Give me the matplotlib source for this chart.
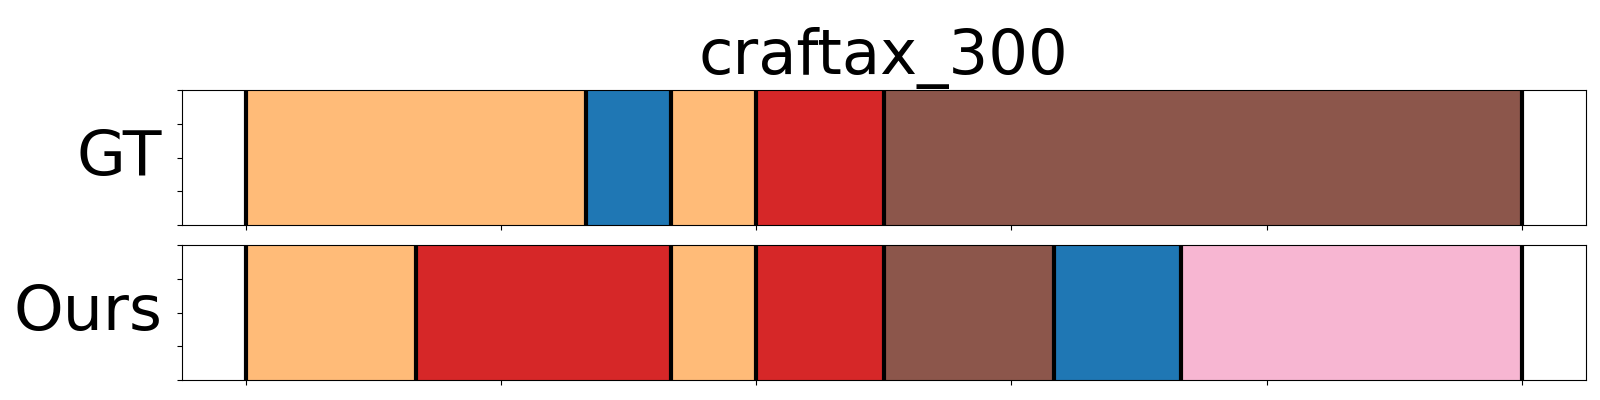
import matplotlib
matplotlib.use('Agg')
import matplotlib.pyplot as plt

title = 'craftax_300'
rows = ['GT', 'Ours']

# segments: start, end, colour
gt_starts = [0, 80, 100, 120, 150]
gt_ends = [80, 100, 120, 150, 300]
gt_colors = ['#ffbb78', '#1f77b4', '#ffbb78', '#d62728', '#8c564b']

ours_starts = [0, 40, 100, 120, 150, 190, 220]
ours_ends = [40, 100, 120, 150, 190, 220, 300]
ours_colors = ['#ffbb78', '#d62728', '#ffbb78', '#d62728', '#8c564b', '#1f77b4', '#f7b6d2']

segs = [(gt_starts, gt_ends, gt_colors), (ours_starts, ours_ends, ours_colors)]

fig = plt.figure(figsize=(16, 4), dpi=100)
ax1 = fig.add_axes([0.1136, 0.4375, 0.8774, 0.3365])
ax2 = fig.add_axes([0.1136, 0.05, 0.8774, 0.337])

for ax, name, (st, en, cs) in zip([ax1, ax2], rows, segs):
    for s, e, c in zip(st, en, cs):
        ax.axvspan(s, e, color=c)
    for b in sorted(set(st + en)):
        ax.axvline(b, color='black', linewidth=3)
    ax.set_xlim(-15, 315)
    ax.set_ylim(0, 1)
    ax.set_xticks([0, 60, 120, 180, 240, 300])
    ax.set_xticklabels([])
    ax.set_yticks([0, 0.25, 0.5, 0.75, 1])
    ax.set_yticklabels([])
    ax.set_ylabel(name, fontsize=45.5, rotation=0, ha='right', va='center')
    ax.yaxis.set_label_coords(-0.014, 0.5)

ax1.set_title(title, fontsize=45, pad=12)

fig.savefig('out.png')
